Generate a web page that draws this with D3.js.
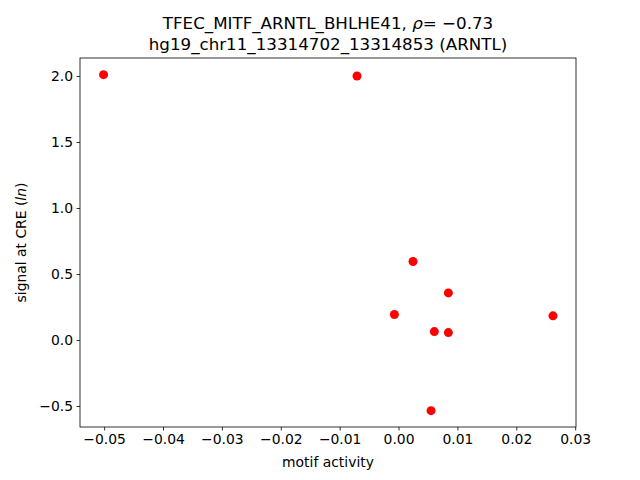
<!DOCTYPE html>
<html><head><meta charset="utf-8">
<script src="https://cdn.jsdelivr.net/npm/d3@7/dist/d3.min.js"></script>
<style>body{margin:0;background:#fff}svg{display:block}text{font-family:"DejaVu Sans",sans-serif;fill:#000}</style>
</head><body><svg id="c" width="640" height="480"></svg>
<script>
const xVals=[-0.0501,-0.00705,0.00246,0.00846,-0.0007,0.00608,0.00846,0.02623,0.00552];
const yVals=[2.01,2.0,0.595,0.357,0.193,0.064,0.056,0.183,-0.535];
const xTicks=[-0.05,-0.04,-0.03,-0.02,-0.01,0.00,0.01,0.02,0.03];
const yTicks=[-0.5,0.0,0.5,1.0,1.5,2.0];

const L=80,R=576,T=58,B=427;
const svg=d3.select("#c");
const x=d3.scaleLinear().domain([-0.05410,0.03014]).range([L,R]);
const y=d3.scaleLinear().domain([-0.6590,2.1364]).range([B,T]);

svg.append("g").selectAll("circle").data(xVals.map((v,i)=>[v,yVals[i]])).join("circle")
 .attr("cx",d=>x(d[0])).attr("cy",d=>y(d[1])).attr("r",4.5).attr("fill","#ff0000");

const xa=svg.append("g").attr("transform",`translate(0,${B})`)
 .call(d3.axisBottom(x).tickValues(xTicks).tickSize(3.5).tickPadding(3.5).tickFormat(d=>d3.format(".2f")(d).replace("-","\u2212")));
const ya=svg.append("g").attr("transform",`translate(${L},0)`)
 .call(d3.axisLeft(y).tickValues(yTicks).tickSize(3.5).tickPadding(3.5).tickFormat(d=>d3.format(".1f")(d).replace("-","\u2212")));
[xa,ya].forEach(a=>{a.select(".domain").remove();a.selectAll("line").attr("stroke","#000").attr("stroke-width",0.8);a.selectAll("text").attr("font-size","13.9px").attr("font-family","DejaVu Sans");});

svg.append("rect").attr("x",L).attr("y",T).attr("width",R-L).attr("height",B-T).attr("fill","none").attr("stroke","#000").attr("stroke-width",0.8);

const t1=svg.append("text").attr("x",(L+R)/2).attr("y",29).attr("text-anchor","middle").attr("font-size","16.7px");
t1.append("tspan").text("TFEC_MITF_ARNTL_BHLHE41, ");
t1.append("tspan").attr("font-style","italic").text("ρ");
t1.append("tspan").text("= \u22120.73");
svg.append("text").attr("x",(L+R)/2).attr("y",50).attr("text-anchor","middle").attr("font-size","16.7px").text("hg19_chr11_13314702_13314853 (ARNTL)");

svg.append("text").attr("x",(L+R)/2).attr("y",467).attr("text-anchor","middle").attr("font-size","13.9px").text("motif activity");
const yl=svg.append("text").attr("transform",`translate(26,${(T+B)/2}) rotate(-90)`).attr("text-anchor","middle").attr("font-size","13.9px");
yl.append("tspan").text("signal at CRE (");
yl.append("tspan").attr("font-style","italic").text("ln");
yl.append("tspan").text(")");
</script></body></html>
